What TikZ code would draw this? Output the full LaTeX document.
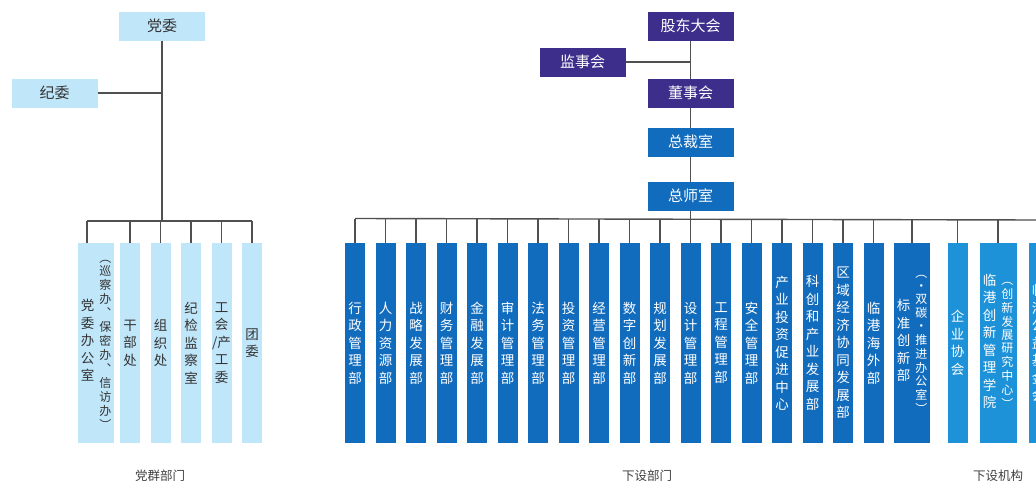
\documentclass[tikz,border=0pt]{standalone}
\usepackage{fontspec}
\setmainfont{Noto Sans CJK SC}
\usetikzlibrary{positioning}
\definecolor{boardviolet}{RGB}{62,46,140}
\definecolor{deptblue}{RGB}{18,108,190}
\definecolor{unitblue}{RGB}{30,146,216}
\definecolor{partyfill}{RGB}{192,230,250}
\definecolor{linegray}{RGB}{80,80,80}
\newcommand{\vcol}[1]{\begin{tabular}[c]{@{}c@{}}#1\end{tabular}}
\newcommand{\vnote}[1]{{\fontsize{12}{13}\selectfont\begin{tabular}[c]{@{}c@{}}#1\end{tabular}}}

\begin{document}
\begin{tikzpicture}[
        x=1pt, y=-1pt,
        font=\fontsize{15}{18}\selectfont,
        base/.style={inner sep=0pt, outer sep=0pt, align=center, text=white},
        head/.style={base, minimum width=86pt, minimum height=29pt, fill=deptblue},
        board/.style={head, fill=boardviolet},
        partyhead/.style={head, fill=partyfill, text=black!80},
        col/.style={base, minimum width=20pt, minimum height=200pt, fill=deptblue, font=\fontsize{13.5}{17.5}\selectfont},
        widecol/.style={col, minimum width=36pt},
        partycol/.style={col, fill=partyfill, text=black!80},
        unitcol/.style={col, fill=unitblue},
        link/.style={draw=linegray, line width=1.4pt},
        caption/.style={font=\fontsize{12.5}{14}\selectfont, text=black!75}
    ]
    \useasboundingbox (0,0) rectangle (1036,482);
    \clip (0,0) rectangle (1036,482);

    % Nodes
    \node[partyhead] (dangwei) at (162,26) {党委};
    \node[partyhead] (jiwei) at (54.5,93) {纪委};
    \coordinate (pbus) at (162,221);

    \node[partycol, minimum width=36pt] (dwbgs) at (96,343) {\vcol{党\\委\\办\\公\\室}\hspace{5pt}\vnote{︵\\巡\\察\\办\\︑\\保\\密\\办\\︑\\信\\访\\办\\︶}};
    \node[partycol, right=6pt of dwbgs] (ganbu) {干\\部\\处};
    \node[partycol, right=10.5pt of ganbu] (zuzhi) {组\\织\\处};
    \node[partycol, right=10.5pt of zuzhi] (jijian) {纪\\检\\监\\察\\室};
    \node[partycol, right=10.5pt of jijian] (gonghui) {工\\会\\/产\\工\\委};
    \node[partycol, right=10.5pt of gonghui] (tuanwei) {团\\委};

    \node[board] (gudong) at (690.5,26) {股东大会};
    \node[board] (jianshi) at (582.5,62) {监事会};
    \node[board, below=38pt of gudong] (dongshi) {董事会};
    \node[head, below=20pt of dongshi] (zongcai) {总裁室};
    \node[head, below=25pt of zongcai] (zongshi) {总师室};
    \coordinate (dbus) at ([yshift=-8pt]zongshi.south);
    \coordinate (dbusend) at (1040,220);

    \node[col] (xingzheng) at (355,343) {行\\政\\管\\理\\部};
    \node[col, right=10.5pt of xingzheng] (renli) {人\\力\\资\\源\\部};
    \node[col, right=10.5pt of renli] (zhanlue) {战\\略\\发\\展\\部};
    \node[col, right=10.5pt of zhanlue] (caiwu) {财\\务\\管\\理\\部};
    \node[col, right=10.5pt of caiwu] (jinrong) {金\\融\\发\\展\\部};
    \node[col, right=10.5pt of jinrong] (shenji) {审\\计\\管\\理\\部};
    \node[col, right=10.5pt of shenji] (fawu) {法\\务\\管\\理\\部};
    \node[col, right=10.5pt of fawu] (touzi) {投\\资\\管\\理\\部};
    \node[col, right=10.5pt of touzi] (jingying) {经\\营\\管\\理\\部};
    \node[col, right=10.5pt of jingying] (shuzi) {数\\字\\创\\新\\部};
    \node[col, right=10.5pt of shuzi] (guihua) {规\\划\\发\\展\\部};
    \node[col, right=10.5pt of guihua] (sheji) {设\\计\\管\\理\\部};
    \node[col, right=10.5pt of sheji] (gongcheng) {工\\程\\管\\理\\部};
    \node[col, right=10.5pt of gongcheng] (anquan) {安\\全\\管\\理\\部};
    \node[col, right=10.5pt of anquan] (chanye) {产\\业\\投\\资\\促\\进\\中\\心};
    \node[col, right=10.5pt of chanye] (kechuang) {科\\创\\和\\产\\业\\发\\展\\部};
    \node[col, right=10.5pt of kechuang] (quyu) {区\\域\\经\\济\\协\\同\\发\\展\\部};
    \node[col, right=10.5pt of quyu] (haiwai) {临\\港\\海\\外\\部};
    \node[widecol, right=10.5pt of haiwai] (biaozhun) {\vcol{标\\准\\创\\新\\部}\hspace{5pt}\vnote{︵\\・\\双\\碳\\・\\推\\进\\办\\公\\室\\︶}};

    \node[unitcol, right=17.5pt of biaozhun] (qiye) {企\\业\\协\\会};
    \node[unitcol, minimum width=37pt, right=12pt of qiye] (xueyuan) {\vcol{临\\港\\创\\新\\管\\理\\学\\院}\hspace{5pt}\vnote{︵\\创\\新\\发\\展\\研\\究\\中\\心\\︶}};
    \node[unitcol, right=12pt of xueyuan] (jijinhui) {临\\港\\公\\益\\基\\金\\会};

    \node[caption] (qunlabel) at (160,476) {党群部门};
    \node[caption] (bumenlabel) at (647,476) {下设部门};
    \node[caption] (jigoulabel) at (998,476) {下设机构};

    % Lines
    \draw[link] (dangwei) -- (pbus);
    \draw[link] (jiwei) -- (jiwei -| dangwei);
    \draw[link] ([xshift=-9pt]dwbgs.north |- pbus) -- (tuanwei |- pbus);
    \draw[link] ([xshift=-9pt]dwbgs.north) -- ([xshift=-9pt]dwbgs.north |- pbus);
    \foreach \n in {ganbu, zuzhi, jijian, gonghui, tuanwei}
        \draw[link] (\n) -- (\n |- pbus);

    \draw[link] (gudong) -- (dongshi);
    \draw[link] (jianshi) -- (jianshi -| gudong);
    \draw[link] (dongshi) -- (zongcai);
    \draw[link] (zongcai) -- (zongshi);
    \draw[link] (zongshi) -- (dbus);
    \draw[link] (xingzheng |- dbus) -- (dbusend);
    \foreach \n in {xingzheng, renli, zhanlue, caiwu, jinrong, shenji, fawu, touzi, jingying, shuzi, guihua, sheji, gongcheng, anquan, chanye, kechuang, quyu, haiwai, biaozhun, qiye, xueyuan, jijinhui}
        \draw[link] (\n) -- (\n |- dbus);

\end{tikzpicture}
\end{document}
